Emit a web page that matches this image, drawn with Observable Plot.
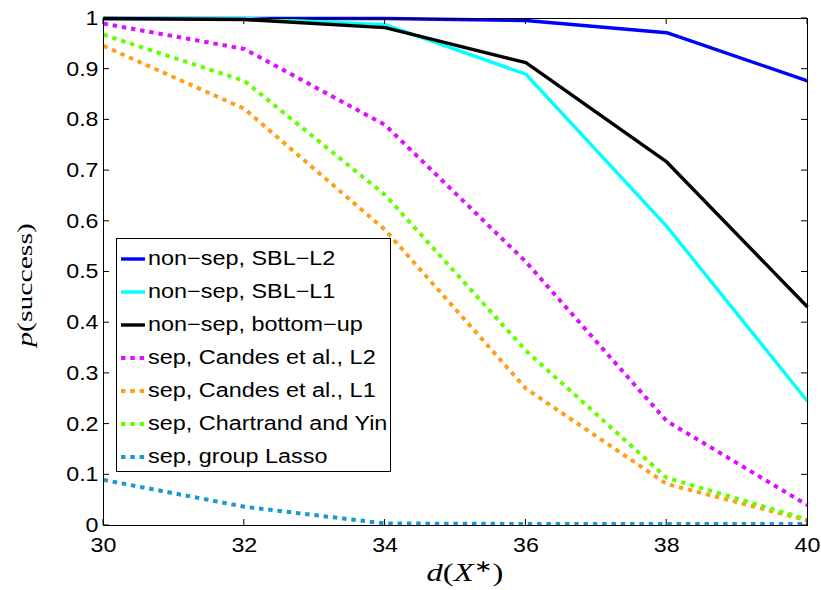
<!DOCTYPE html>
<html>
<head>
<meta charset="utf-8">
<script src="https://cdn.jsdelivr.net/npm/d3@7"></script>
<script src="https://cdn.jsdelivr.net/npm/@observablehq/plot@0.6"></script>
<style>
  body { margin: 0; background: #fff; }
  #wrap { position: relative; width: 821px; height: 590px; }
  #legend { position: absolute; left: 116px; top: 238px; width: 273px; height: 232px;
    border: 1px solid #000; background: #fff; box-sizing: content-box;
    font-family: "Liberation Sans", Arial, sans-serif; font-size: 20px; }
  .row { position: absolute; left: 0; height: 33px; display: flex; align-items: center; white-space: nowrap; }
  .row svg { margin-left: 4px; }
  .row span { display: inline-block; margin-left: 3px; transform: scaleX(1.17); transform-origin: left center; }
</style>
</head>
<body>
<div id="wrap"></div>
<script>
const xs = [30, 32, 34, 36, 38, 40];
const seriesNames = [
  "non−sep, SBL−L2",
  "non−sep, SBL−L1",
  "non−sep, bottom−up",
  "sep, Candes et al., L2",
  "sep, Candes et al., L1",
  "sep, Chartrand and Yin",
  "sep, group Lasso"
];
const sblL2      = [1.000, 1.000, 1.000, 0.996, 0.972, 0.877];
const sblL1      = [1.000, 1.000, 0.988, 0.890, 0.590, 0.245];
const bottomUp   = [1.000, 0.998, 0.982, 0.913, 0.717, 0.431];
const candesL2   = [0.990, 0.940, 0.790, 0.520, 0.206, 0.040];
const candesL1   = [0.946, 0.822, 0.583, 0.270, 0.082, 0.010];
const chartrand  = [0.968, 0.877, 0.652, 0.345, 0.094, 0.012];
const groupLasso = [0.090, 0.037, 0.004, 0.003, 0.003, 0.003];
const seriesValues = [sblL2, sblL1, bottomUp, candesL2, candesL1, chartrand, groupLasso];
const seriesColors = ["#0000ff", "#00ffff", "#000000", "#dd11ff", "#ff9f1a", "#66ff00", "#1a9acc"];
const seriesDash = [null, null, null, "4.5,4.8", "4.5,4.8", "4.5,4.8", "4.5,4.8"];
const xTicks = [30, 32, 34, 36, 38, 40];
const yTicks = [0, 0.1, 0.2, 0.3, 0.4, 0.5, 0.6, 0.7, 0.8, 0.9, 1];
const yTickLabels = ["0", "0.1", "0.2", "0.3", "0.4", "0.5", "0.6", "0.7", "0.8", "0.9", "1"];

const rows = [];
seriesNames.forEach((name, i) => {
  xs.forEach((x, j) => rows.push({series: name, x, y: seriesValues[i][j], i}));
});

const lineMarks = seriesNames.map((name, i) =>
  Plot.line(rows.filter(d => d.i === i), {
    x: "x", y: "y", stroke: seriesColors[i], strokeWidth: seriesDash[i] ? 4 : 3.4,
    strokeDasharray: seriesDash[i] || undefined,
    strokeLinejoin: "round", strokeLinecap: "butt"
  })
);

const chart = Plot.plot({
  width: 821, height: 590,
  marginLeft: 103, marginRight: 14, marginTop: 18, marginBottom: 65,
  style: {fontFamily: "'Liberation Sans', Arial, sans-serif", fontSize: "20px", color: "#000", background: "#fff"},
  x: {domain: [30, 40]},
  y: {domain: [0, 1]},
  marks: [
    ...lineMarks,
    Plot.frame({stroke: "#000", strokeWidth: 1}),
    Plot.axisX({ticks: xTicks, tickSize: 0, tickPadding: 12, label: null, tickFormat: d => String(d)}),
    Plot.axisY({ticks: yTicks, tickSize: 0, tickPadding: 5, label: null, tickFormat: d => yTickLabels[yTicks.indexOf(d)] ?? String(d)})
  ]
});

const wrap = document.getElementById("wrap");
wrap.appendChild(chart);

const svg = d3.select(chart);
const sx = chart.scale("x"), sy = chart.scale("y");
const [y0, y1] = sy.range; // bottom, top
const [x0, x1] = sx.range;
const tl = 6;
const g = svg.append("g").attr("stroke", "#000").attr("stroke-width", 1);
xTicks.forEach(t => {
  const px = sx.apply(t);
  g.append("line").attr("x1", px).attr("x2", px).attr("y1", y0).attr("y2", y0 - tl);
  g.append("line").attr("x1", px).attr("x2", px).attr("y1", y1).attr("y2", y1 + tl);
});
yTicks.forEach(t => {
  const py = sy.apply(t);
  g.append("line").attr("x1", x0).attr("x2", x0 + tl).attr("y1", py).attr("y2", py);
  g.append("line").attr("x1", x1).attr("x2", x1 - tl).attr("y1", py).attr("y2", py);
});

// stretch tick labels horizontally like the reference
svg.selectAll("g[aria-label$='tick label'] text").each(function() {
  const t = this.getAttribute("transform") || "";
  this.setAttribute("transform", t + " scale(1.16,1)");
});

// axis titles
const serif = "'Liberation Serif', 'Times New Roman', serif";
const yl = svg.append("text").attr("transform", `translate(32,285) rotate(-90) scale(1.35,1)`)
  .attr("text-anchor", "middle").attr("font-family", serif).attr("font-size", 22);
yl.append("tspan").attr("font-style", "italic").text("p");
yl.append("tspan").text("(success)");

const xl = svg.append("text").attr("transform", `translate(465,581) scale(1.3,1)`)
  .attr("text-anchor", "middle").attr("font-family", serif).attr("font-size", 25);
xl.append("tspan").attr("font-style", "italic").text("d");
xl.append("tspan").text("(");
xl.append("tspan").attr("font-style", "italic").text("X");
xl.append("tspan").attr("font-size", 17).attr("dy", -9).text("∗");
xl.append("tspan").attr("dy", 9).text(")");

// legend
const legend = document.createElement("div");
legend.id = "legend";
seriesNames.forEach((name, i) => {
  const r = document.createElement("div");
  r.className = "row";
  r.style.top = (3 + i * 33) + "px";
  const dash = seriesDash[i] ? `stroke-dasharray="${seriesDash[i]}"` : "";
  const sw = seriesDash[i] ? 4 : 3.4;
  r.innerHTML = `<svg width="24" height="8"><line x1="0" x2="24" y1="4" y2="4" stroke="${seriesColors[i]}" stroke-width="${sw}" ${dash}/></svg><span>${name}</span>`;
  legend.appendChild(r);
});
wrap.appendChild(legend);
</script>
</body>
</html>
